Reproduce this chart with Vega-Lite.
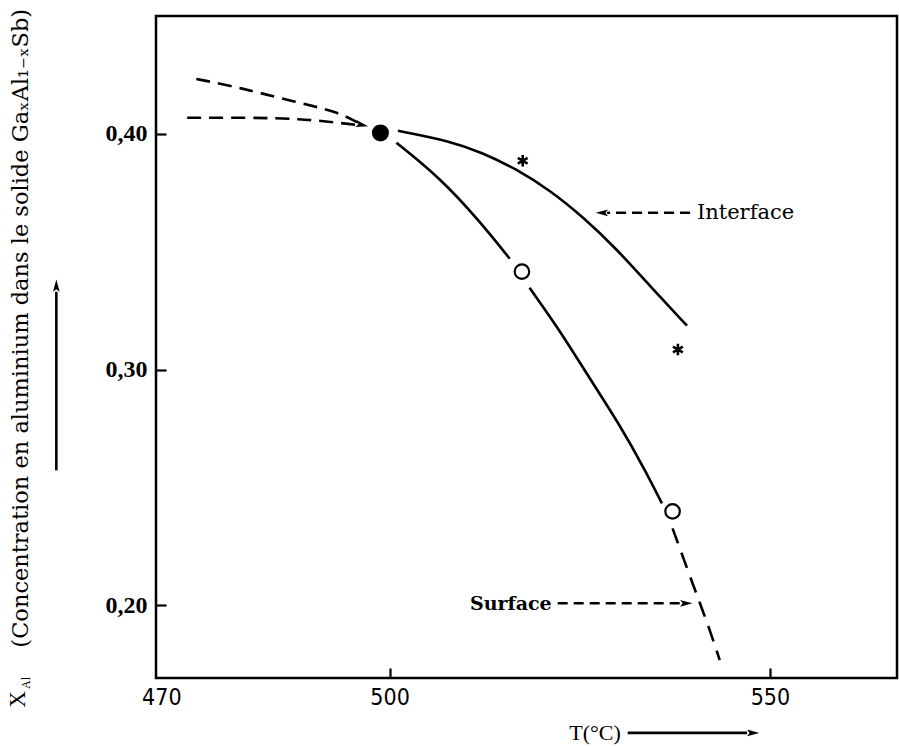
{
  "$schema": "https://vega.github.io/schema/vega-lite/v6.json",
  "width": 741,
  "height": 662,
  "autosize": "none",
  "padding": {"left": 156, "top": 16, "right": 2, "bottom": 69},
  "background": "white",
  "config": {"view": {"stroke": "black", "strokeWidth": 2.5}, "font": "Liberation Serif"},
  "encoding": {
    "x": {"field": "T", "type": "quantitative",
      "scale": {"domain": [469.3, 566.7], "nice": false, "zero": false},
      "axis": {"values": [470, 500, 550], "title": null, "domain": false, "grid": false,
        "offset": -10, "tickSize": 10, "tickWidth": 2.2, "tickColor": "black",
        "tickOpacity": {"condition": {"test": "datum.value === 470", "value": 0}, "value": 1},
        "labelFont": "DejaVu Sans Condensed, Liberation Sans Narrow, Liberation Sans", "labelFontSize": 23, "labelColor": "black", "labelPadding": 8}},
    "y": {"field": "X", "type": "quantitative",
      "scale": {"domain": [0.1691, 0.45], "nice": false, "zero": false},
      "axis": {"values": [0.2, 0.3, 0.4], "title": null, "domain": false, "grid": false,
        "offset": -10, "tickSize": 10, "tickWidth": 2.2, "tickColor": "black",
        "labelExpr": "replace(format(datum.value, '.2f'), '.', ',')",
        "labelFont": "Liberation Serif", "labelFontSize": 24, "labelFontWeight": "bold", "labelColor": "black", "labelPadding": 9}}
  },
  "layer": [
    {"data": {"values": [
      {"T": 474.6, "X": 0.4233}, {"T": 479.3, "X": 0.4203}, {"T": 482.9, "X": 0.4174},
      {"T": 488.2, "X": 0.4131}, {"T": 493.2, "X": 0.4093}, {"T": 496.0, "X": 0.4045}]},
     "mark": {"type": "line", "interpolate": "basis", "color": "black", "strokeWidth": 2.6, "strokeDash": [14, 8]}},
    {"data": {"values": [
      {"T": 473.4, "X": 0.4068}, {"T": 481.6, "X": 0.4069}, {"T": 488.2, "X": 0.4064},
      {"T": 493.4, "X": 0.4047}, {"T": 496.0, "X": 0.4036}]},
     "mark": {"type": "line", "interpolate": "basis", "color": "black", "strokeWidth": 2.6, "strokeDash": [14, 8]}},
    {"data": {"values": [
      {"T": 501.1, "X": 0.4013}, {"T": 507.9, "X": 0.3970}, {"T": 512.2, "X": 0.3920},
      {"T": 516.7, "X": 0.3850}, {"T": 521.1, "X": 0.3760}, {"T": 525.4, "X": 0.3648},
      {"T": 529.9, "X": 0.3510}, {"T": 534.2, "X": 0.3355}, {"T": 539.1, "X": 0.3186}]},
     "mark": {"type": "line", "interpolate": "basis", "color": "black", "strokeWidth": 2.6}},
    {"data": {"values": [
      {"T": 500.9, "X": 0.3962}, {"T": 506.6, "X": 0.3814}, {"T": 511.8, "X": 0.3631}, {"T": 515.8, "X": 0.3470}]},
     "mark": {"type": "line", "interpolate": "basis", "color": "black", "strokeWidth": 2.6}},
    {"data": {"values": [
      {"T": 518.4, "X": 0.3347}, {"T": 522.4, "X": 0.3165}, {"T": 526.3, "X": 0.2962},
      {"T": 530.3, "X": 0.2763}, {"T": 533.6, "X": 0.2572}, {"T": 535.8, "X": 0.2432}]},
     "mark": {"type": "line", "interpolate": "basis", "color": "black", "strokeWidth": 2.6}},
    {"data": {"values": [
      {"T": 537.2, "X": 0.2326}, {"T": 539.2, "X": 0.2148}, {"T": 540.8, "X": 0.2008},
      {"T": 542.1, "X": 0.1894}, {"T": 543.4, "X": 0.1767}]},
     "mark": {"type": "line", "interpolate": "basis", "color": "black", "strokeWidth": 2.6, "strokeDash": [16, 10]}},
    {"data": {"values": [{"T": 498.8, "X": 0.4004}]},
     "mark": {"type": "point", "shape": "circle", "filled": true, "color": "black", "size": 290, "opacity": 1}},
    {"data": {"values": [{"T": 517.4, "X": 0.3415}, {"T": 537.2, "X": 0.2398}]},
     "mark": {"type": "point", "shape": "circle", "filled": false, "fill": "white", "fillOpacity": 1, "stroke": "black", "strokeWidth": 2.2, "size": 210, "opacity": 1}},
    {"data": {"values": [{"T": 517.5, "X": 0.3886}, {"T": 537.9, "X": 0.3085}]},
     "mark": {"type": "point", "shape": "M0,-1L0,1M-0.87,-0.5L0.87,0.5M-0.87,0.5L0.87,-0.5", "filled": false, "stroke": "black", "strokeWidth": 2.6, "size": 130, "opacity": 1}},
    {"data": {"values": [
      {"T": 539.5, "X": 0.3665, "T2": 528.6, "X2": 0.3665},
      {"T": 522.1, "X": 0.2008, "T2": 538.2, "X2": 0.2008}]},
     "mark": {"type": "rule", "color": "black", "strokeWidth": 2.4, "strokeDash": [10, 6]},
     "encoding": {"x2": {"field": "T2"}, "y2": {"field": "X2"}}},
    {"data": {"values": [
      {"T": 456.2, "X": 0.2572, "T2": 456.2, "X2": 0.3330},
      {"T": 531.3, "X": 0.1458, "T2": 547.0, "X2": 0.1458}]},
     "mark": {"type": "rule", "color": "black", "strokeWidth": 2.6},
     "encoding": {"x2": {"field": "T2"}, "y2": {"field": "X2"}}},
    {"data": {"values": [{"T": 539.0, "X": 0.2008}, {"T": 547.8, "X": 0.1458}]},
     "mark": {"type": "point", "shape": "M-1,-0.55L1,0L-1,0.55L-0.6,0Z", "filled": true, "color": "black", "size": 150, "opacity": 1}},
    {"data": {"values": [{"T": 527.9, "X": 0.3665}]},
     "mark": {"type": "point", "shape": "M-1,-0.55L1,0L-1,0.55L-0.6,0Z", "filled": true, "color": "black", "size": 150, "opacity": 1, "angle": 180}},
    {"data": {"values": [{"T": 456.2, "X": 0.3356}]},
     "mark": {"type": "point", "shape": "M-1,-0.55L1,0L-1,0.55L-0.6,0Z", "filled": true, "color": "black", "size": 150, "opacity": 1, "angle": 270}},
    {"data": {"values": [{"T": 496.4, "X": 0.4038}]},
     "mark": {"type": "point", "shape": "M-1,-0.55L1,0L-1,0.55L-0.6,0Z", "filled": true, "color": "black", "size": 150, "opacity": 1, "angle": 12}},
    {"data": {"values": [{"T": 540.4, "X": 0.3665, "label": "Interface"}]},
     "mark": {"type": "text", "align": "left", "baseline": "middle", "font": "DejaVu Serif", "fontSize": 21, "color": "black"},
     "encoding": {"text": {"field": "label"}}},
    {"data": {"values": [{"T": 521.3, "X": 0.2004, "label": "Surface"}]},
     "mark": {"type": "text", "align": "right", "baseline": "middle", "font": "DejaVu Serif", "fontWeight": "bold", "fontSize": 19, "color": "black"},
     "encoding": {"text": {"field": "label"}}},
    {"data": {"values": [{"T": 527.0, "X": 0.1458, "label": "T(°C)"}]},
     "mark": {"type": "text", "align": "center", "baseline": "middle", "font": "Liberation Serif", "fontSize": 22, "color": "black"},
     "encoding": {"text": {"field": "label"}}},
    {"data": {"values": [{"T": 451.6, "X": 0.3175, "label": "(Concentration en aluminium dans le solide GaₓAl₁₋ₓSb)"}]},
     "mark": {"type": "text", "align": "center", "baseline": "middle", "angle": 270, "font": "DejaVu Serif", "fontSize": 22.5, "color": "black"},
     "encoding": {"text": {"field": "label"}}},
    {"data": {"values": [{"T": 451.1, "X": 0.1600, "label": "X"}]},
     "mark": {"type": "text", "align": "center", "baseline": "middle", "angle": 270, "font": "Liberation Serif", "fontSize": 23, "color": "black"},
     "encoding": {"text": {"field": "label"}}},
    {"data": {"values": [{"T": 452.2, "X": 0.1670, "label": "Al"}]},
     "mark": {"type": "text", "align": "center", "baseline": "middle", "angle": 270, "font": "Liberation Serif", "fontSize": 12, "color": "black"},
     "encoding": {"text": {"field": "label"}}}
  ]
}
